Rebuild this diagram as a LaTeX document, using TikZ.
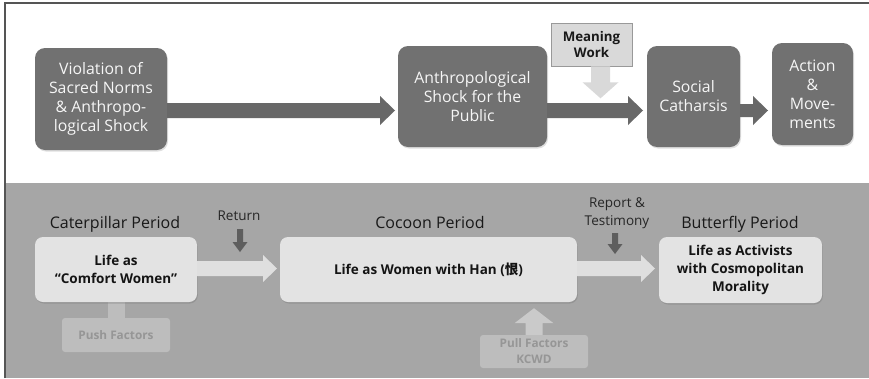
\documentclass[tikz,border=0pt]{standalone}
\usepackage{fontspec}
\setmainfont{Open Sans}
\newfontfamily\cjk{Noto Sans CJK KR}
\usetikzlibrary{calc,shadows}
\definecolor{topgray}{HTML}{717171}
\definecolor{toparrow}{HTML}{686868}
\definecolor{panelgray}{HTML}{A6A6A6}
\definecolor{framegray}{HTML}{555555}
\definecolor{lightbox}{HTML}{E3E3E3}
\definecolor{whitearrow}{HTML}{DFDFDF}
\definecolor{darkarrow}{HTML}{5E5E5E}
\definecolor{fadebox}{HTML}{BDBDBD}
\definecolor{fadetext}{HTML}{969696}
\definecolor{mwgray}{HTML}{D9D9D9}
\newcommand\hblock[6]{\fill[#1] ($(#2)+(0,#4)$) -- ($(#3)+(-#6,#4)$) -- ($(#3)+(-#6,#5)$) -- (#3) -- ($(#3)+(-#6,-#5)$) -- ($(#3)+(-#6,-#4)$) -- ($(#2)+(0,-#4)$) -- cycle;}
\newcommand\vdown[6]{\fill[#1] ($(#2)+(-#4,0)$) -- ($(#3)+(-#4,-#6)$) -- ($(#3)+(-#5,-#6)$) -- (#3) -- ($(#3)+(#5,-#6)$) -- ($(#3)+(#4,-#6)$) -- ($(#2)+(#4,0)$) -- cycle;}
\newcommand\vup[6]{\fill[#1] ($(#2)+(-#4,0)$) -- ($(#3)+(-#4,#6)$) -- ($(#3)+(-#5,#6)$) -- (#3) -- ($(#3)+(#5,#6)$) -- ($(#3)+(#4,#6)$) -- ($(#2)+(#4,0)$) -- cycle;}
\begin{document}
\begin{tikzpicture}[x=1pt,y=-1pt,
  topbox/.style={fill=topgray, rounded corners=10pt, text=white!93!gray, align=center,
    font=\fontsize{15.8}{19}\selectfont, inner sep=0pt,
    drop shadow={opacity=0.25, shadow xshift=1pt, shadow yshift=-1.5pt}},
  mwbox/.style={fill=mwgray, draw=gray!80, line width=0.6pt, align=center, inner sep=0pt,
    font=\fontsize{13.3}{16}\selectfont\bfseries, text=black!90},
  lab/.style={inner sep=0pt, anchor=base, font=\fontsize{16}{18}\selectfont, text=black!90},
  smalllab/.style={inner sep=0pt, align=center, font=\fontsize{13.5}{18}\selectfont, text=black!85},
  lifebox/.style={fill=lightbox, rounded corners=8pt, align=center, inner sep=0pt,
    font=\fontsize{13.5}{18}\selectfont\bfseries, text=black!92,
    drop shadow={opacity=0.45, shadow xshift=0.8pt, shadow yshift=-1.5pt}},
  fadebx/.style={fill=fadebox, rounded corners=3pt, align=center, inner sep=0pt,
    font=\fontsize{11.8}{16}\selectfont\bfseries, text=fadetext}]
\useasboundingbox (0,0) rectangle (869,378);
\fill[white] (0,0) rectangle (869,183);
\fill[panelgray] (5,183) rectangle (869,378);
\draw[framegray, line width=1.2pt] (5,378) -- (5,3) -- (869,3);

% top row
\node[topbox, minimum width=132, minimum height=102] (b1) at (101,99) {Violation of\\Sacred Norms\\\& Anthropo-\\logical Shock};
\node[topbox, minimum width=149, minimum height=101] (b2) at (472.5,96.5) {Anthropological\\Shock for the\\Public};
\node[topbox, minimum width=93, minimum height=101] (b3) at (693.5,96.5) {Social\\Catharsis};
\node[topbox, minimum width=81, minimum height=102] (b4) at (812.5,94) {Action\\\&\\Move-\\ments};
\node[mwbox, minimum width=81, minimum height=43] (mw) at (591.5,44.5) {Meaning\\Work};

\coordinate (t1) at (395,110.5);
\coordinate (t2) at (643,110.5);
\coordinate (t3) at (768,110.5);
\coordinate (s1) at (b1.east |- t1);
\coordinate (s2) at (b2.east |- t2);
\coordinate (s3) at (b3.east |- t3);
\hblock{toparrow}{s1}{t1}{7.5}{14.5}{15}
\hblock{toparrow}{s2}{t2}{7.5}{14.5}{15}
\hblock{toparrow}{s3}{t3}{6.5}{14.5}{15}

\coordinate (ms) at ($(mw.south)+(9,0)$);
\coordinate (mt) at ($(ms)+(0,32)$);
\vdown{mwgray}{ms}{mt}{9.5}{18}{16}

% bottom row
\node[lab] (lcat) at (115,228) {Caterpillar Period};
\node[lab] (lcoc) at (430,228) {Cocoon Period};
\node[lab] (lbut) at (740,228) {Butterfly Period};

\coordinate (stemtop) at (116.5,300);
\coordinate (stembot) at (116.5,320);
\fill[fadebox] ($(stemtop)+(-8.5,0)$) rectangle ($(stembot)+(8.5,0)$);

\node[lifebox, minimum width=162, minimum height=65] (L1) at (116,269.5) {Life as\\\char"201C Comfort Women\char"201D};
\node[lifebox, minimum width=297, minimum height=65] (C) at (428.5,269.5) {Life as Women with Han ({\cjk\bfseries 恨})};
\node[lifebox, minimum width=163, minimum height=66] (B) at (740.5,270) {Life as Activists\\with Cosmopolitan\\Morality};

\node[fadebx, minimum width=108, minimum height=34] (push) at (116,335) {Push Factors};
\node[fadebx, minimum width=108, minimum height=33] (pull) at (534,351.5) {Pull Factors\\KCWD};

\coordinate (w1t) at (277,268.5);
\coordinate (w2t) at (655,268.5);
\coordinate (w1s) at (L1.east |- w1t);
\coordinate (w2s) at (C.east |- w2t);
\hblock{whitearrow}{w1s}{w1t}{7.5}{13.5}{14}
\hblock{whitearrow}{w2s}{w2t}{7.5}{13.5}{14}

\node[smalllab] (ret) at (239,216) {Return};
\node[smalllab] (rep) at (617,213) {Report \&\\Testimony};
\coordinate (rs) at (240,229);
\coordinate (rt) at (240,252);
\vdown{darkarrow}{rs}{rt}{3}{7.5}{10}
\coordinate (ps) at (615,233);
\coordinate (pt) at (615,254);
\vdown{darkarrow}{ps}{pt}{3}{7.5}{10}

\coordinate (us) at (pull.north);
\coordinate (ut) at ($(C.south -| us)+(0,6)$);
\vup{fadebox!80!white}{us}{ut}{8.5}{19.5}{15}
\end{tikzpicture}
\end{document}
